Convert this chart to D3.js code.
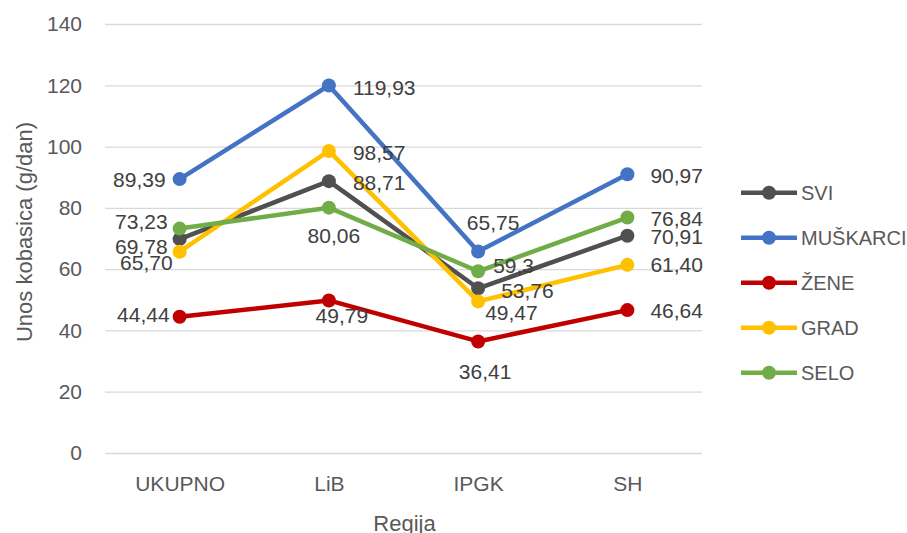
<!DOCTYPE html>
<html>
<head>
<meta charset="utf-8">
<script src="https://cdn.jsdelivr.net/npm/d3@7"></script>
<style>
body { margin: 0; background: #fff; }
text { font-family: "Liberation Sans", Arial, sans-serif; }
</style>
</head>
<body>
<svg id="chart" width="907" height="533"></svg>
<script>
var categories = ['UKUPNO', 'LiB', 'IPGK', 'SH']
var seriesNames = ['SVI', 'MUŠKARCI', 'ŽENE', 'GRAD', 'SELO']
var svi = [69.78, 88.71, 53.76, 70.91]
var muskarci = [89.39, 119.93, 65.75, 90.97]
var zene = [44.44, 49.79, 36.41, 46.64]
var grad = [65.70, 98.57, 49.47, 61.40]
var selo = [73.23, 80.06, 59.3, 76.84]
var yTicks = [0, 20, 40, 60, 80, 100, 120, 140]

var colors = ['#505050', '#4472C4', '#C00000', '#FFC000', '#70AD47']
// label placement per point: [anchor, dx, dy] from marker centre
var labelPos = [
	[['end',-12,7], ['start',24,1], ['start',23,2], ['start',23,1]],
	[['end',-14,1], ['start',24,2], ['middle',15,-29], ['start',23,1]],
	[['end',-10,-2], ['middle',13,15], ['middle',7,30], ['start',23,1]],
	[['end',-7,11], ['start',24,2], ['start',7,11], ['start',23,0]],
	[['end',-12,-7], ['middle',5,28], ['start',15,-6], ['start',23,1]]
]

var series = [svi, muskarci, zene, grad, selo].map(function(vals, i){
	return {name: seriesNames[i], color: colors[i], values: vals, pos: labelPos[i]}
})

var svg = d3.select('#chart')
var plotLeft = 105, plotRight = 702, plotTop = 24, plotBottom = 453

var x = d3.scalePoint()
	.domain(categories)
	.range([plotLeft, plotRight])
	.padding(0.5)
var y = d3.scaleLinear()
	.domain([0, 140])
	.range([plotBottom, plotTop])

var fmt = function(v){
	// 59,3 is shown with one decimal in the original
	if (v === 59.3) return '59,3'
	return v.toFixed(2).replace('.', ',')
}

// y axis with gridlines
var yAxis = svg.append('g')
	.attr('transform', 'translate(' + plotLeft + ',0)')
	.call(d3.axisLeft(y).tickValues(yTicks).tickSizeInner(-(plotRight - plotLeft)).tickSizeOuter(0).tickPadding(23))
yAxis.select('.domain').remove()
yAxis.selectAll('line').style('stroke', '#D9D9D9').style('stroke-width', 1.3)
yAxis.selectAll('text')
	.style('font-size', '21px')
	.style('fill', '#595959')
	.attr('font-family', null)

// x axis labels
var xAxis = svg.append('g')
	.attr('transform', 'translate(0,' + plotBottom + ')')
	.call(d3.axisBottom(x).tickSize(0).tickPadding(23))
xAxis.select('.domain').remove()
xAxis.selectAll('text')
	.style('font-size', '21px')
	.style('fill', '#595959')
	.attr('font-family', null)

// axis titles
svg.append('text')
	.attr('transform', 'translate(24,232) rotate(-90)')
	.attr('text-anchor', 'middle')
	.attr('dy', '0.35em')
	.style('font-size', '22px')
	.style('fill', '#595959')
	.text('Unos kobasica (g/dan)')
svg.append('text')
	.attr('x', (plotLeft + plotRight) / 2 + 1)
	.attr('y', 531)
	.attr('text-anchor', 'middle')
	.style('font-size', '22px')
	.style('fill', '#595959')
	.text('Regija')

var line = d3.line()
	.x(function(d, i){ return x(categories[i]) })
	.y(function(d){ return y(d) })

var g = svg.selectAll('.series')
	.data(series)
	.enter()
	.append('g')
	.attr('class', 'series')
g.append('path')
	.attr('d', function(d){ return line(d.values) })
	.style('fill', 'none')
	.style('stroke', function(d){ return d.color })
	.style('stroke-width', 4.5)
	.style('stroke-linejoin', 'round')
g.selectAll('circle')
	.data(function(d){ return d.values.map(function(v){ return {v: v, color: d.color} }) })
	.enter()
	.append('circle')
	.attr('cx', function(d, i){ return x(categories[i]) })
	.attr('cy', function(d){ return y(d.v) })
	.attr('r', 7)
	.style('fill', function(d){ return d.color })

// data labels on top
series.forEach(function(s){
	s.values.forEach(function(v, i){
		var p = s.pos[i]
		svg.append('text')
			.attr('x', x(categories[i]) + p[1])
			.attr('y', y(v) + p[2])
			.attr('dy', '0.35em')
			.attr('text-anchor', p[0])
			.style('font-size', '21px')
			.style('fill', '#404040')
			.text(fmt(v))
	})
})

// legend
var legend = svg.selectAll('.legend')
	.data(series)
	.enter()
	.append('g')
	.attr('class', 'legend')
	.attr('transform', function(d, i){ return 'translate(741,' + (192.7 + i * 45) + ')' })
legend.append('line')
	.attr('x1', 0).attr('x2', 56)
	.style('stroke', function(d){ return d.color })
	.style('stroke-width', 4.5)
legend.append('circle')
	.attr('cx', 28)
	.attr('r', 7)
	.style('fill', function(d){ return d.color })
legend.append('text')
	.attr('x', 60)
	.attr('dy', '0.35em')
	.style('font-size', '20px')
	.style('fill', '#595959')
	.text(function(d){ return d.name })
</script>
</body>
</html>
